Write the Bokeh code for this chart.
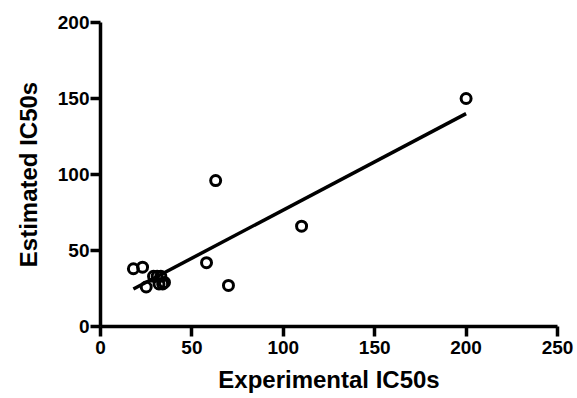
import numpy as np
from bokeh.plotting import figure
from bokeh.models import FixedTicker, Range1d
from bokeh.embed import file_html
from bokeh.resources import INLINE

# data
experimental = [200, 110, 63, 58, 70, 18, 23, 25, 29, 31, 33, 34, 35, 32]
estimated = [150, 66, 96, 42, 27, 38, 39, 26, 33, 33, 33, 28, 29, 28]
x_ticks = [0, 50, 100, 150, 200, 250]
y_ticks = [0, 50, 100, 150, 200]

xs = np.array(experimental, dtype=float)
ys = np.array(estimated, dtype=float)
slope, intercept = np.polyfit(xs, ys, 1)
fit_x = [xs.min(), xs.max()]
fit_y = [slope * v + intercept for v in fit_x]

FONT = "Liberation Sans"

p = figure(width=577, height=398, output_backend="svg", toolbar_location=None,
           x_range=Range1d(0, 250), y_range=Range1d(0, 200),
           min_border_left=100, min_border_right=20, min_border_top=22,
           min_border_bottom=72)
p.outline_line_color = None
p.xgrid.visible = False
p.ygrid.visible = False

p.line(fit_x, fit_y, line_color="black", line_width=3.5)
p.scatter(experimental, estimated, marker="circle", size=10,
          fill_color="white", fill_alpha=0, line_color="black", line_width=3)

p.xaxis.ticker = FixedTicker(ticks=x_ticks)
p.yaxis.ticker = FixedTicker(ticks=y_ticks)
p.xaxis.axis_label = "Experimental IC50s"
p.yaxis.axis_label = "Estimated IC50s"

for ax in (p.xaxis[0], p.yaxis[0]):
    ax.axis_line_width = 3.5
    ax.axis_line_color = "black"
    ax.major_tick_line_width = 3.5
    ax.major_tick_line_color = "black"
    ax.major_tick_out = 10
    ax.major_tick_in = 0
    ax.minor_tick_out = 0
    ax.minor_tick_in = 0
    ax.major_label_text_font = FONT
    ax.major_label_text_font_style = "bold"
    ax.major_label_text_font_size = "19px"
    ax.major_label_text_color = "black"
    ax.axis_label_text_font = FONT
    ax.axis_label_text_font_style = "bold"
    ax.axis_label_text_font_size = "24px"
    ax.axis_label_text_color = "black"

p.xaxis.major_label_standoff = 4
p.yaxis.major_label_standoff = 1
p.xaxis.axis_label_standoff = 9
p.yaxis.axis_label_standoff = 13

open("out.html", "w").write(file_html(p, INLINE))
